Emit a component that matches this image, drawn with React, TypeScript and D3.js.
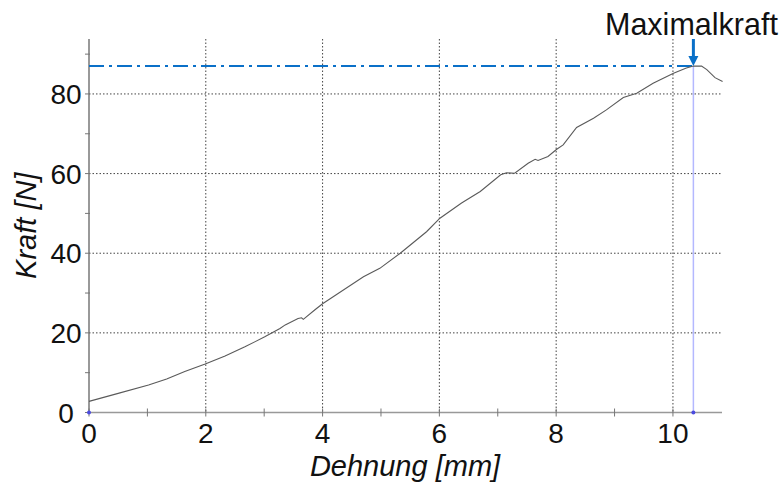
import { scaleLinear, line, max } from "d3"

const dehnung = [0, 0.5, 1.02, 1.33, 1.64, 1.99, 2.33, 2.67, 3.01, 3.27, 3.36, 3.58, 3.64, 3.67, 3.87, 4.0, 4.7, 4.98, 5.33, 5.78, 6.01, 6.38, 6.7, 7.05, 7.15, 7.29, 7.52, 7.64, 7.69, 7.86, 8.01, 8.12, 8.35, 8.64, 8.86, 9.15, 9.38, 9.66, 10.01, 10.23, 10.35, 10.49, 10.58, 10.72, 10.85]
const kraft = [2.8, 4.8, 6.9, 8.4, 10.3, 12.2, 14.2, 16.5, 19.0, 21.1, 22.0, 23.6, 23.8, 23.4, 25.8, 27.3, 34.1, 36.2, 40.0, 45.4, 48.8, 52.6, 55.5, 59.7, 60.2, 60.1, 62.6, 63.6, 63.3, 64.3, 66.1, 67.2, 71.6, 73.9, 76.0, 79.1, 80.2, 82.7, 85.2, 86.5, 87.0, 87.0, 86.1, 84.1, 83.1]

const xTicks = [0, 2, 4, 6, 8, 10]
const yTicks = [0, 20, 40, 60, 80]
const xMinor = [1, 3, 5, 7, 9]
const yMinor = [10, 30, 50, 70, 90]

const width = 781
const height = 482
const font = "Arial, 'Liberation Sans', sans-serif"

const App = () => {
  const x = scaleLinear().domain([0, 10.84]).range([89, 722])
  const y = scaleLinear().domain([0, 93.8]).range([412.5, 39])

  const pts = dehnung.map((d, i) => [d, kraft[i]] as [number, number])
  const path = line<[number, number]>().x(d => x(d[0])).y(d => y(d[1]))(pts)

  const fMax = max(kraft)
  const iMax = kraft.indexOf(fMax)
  const xMax = dehnung[iMax]

  return (
    <svg width={width} height={height} style={{ position: "absolute", left: 0, top: 0, background: "#fff" }} fontFamily={font}>
      {/* gitter */}
      {xTicks.slice(1).map(t => (
        <line key={"gx" + t} x1={x(t)} x2={x(t)} y1={y(93.8)} y2={y(0)} stroke="#444" strokeWidth={1} strokeDasharray="1.5 2" />
      ))}
      {yTicks.slice(1).map(t => (
        <line key={"gy" + t} x1={x(0)} x2={x(10.84)} y1={y(t)} y2={y(t)} stroke="#444" strokeWidth={1} strokeDasharray="1.5 2" />
      ))}

      {/* achsen */}
      <line x1={x(0)} x2={x(10.84)} y1={y(0)} y2={y(0)} stroke="#999" strokeWidth={1.5} />
      <line x1={x(0)} x2={x(0)} y1={y(93.8)} y2={y(0)} stroke="#777" strokeWidth={1.5} />
      {xTicks.concat(xMinor).map(t => (
        <line key={"tx" + t} x1={x(t)} x2={x(t)} y1={y(0) - 4} y2={y(0) + 4} stroke="#777" strokeWidth={1} />
      ))}
      {yTicks.concat(yMinor).map(t => (
        <line key={"ty" + t} x1={x(0) - 4} x2={x(0) + 1} y1={y(t)} y2={y(t)} stroke="#777" strokeWidth={1} />
      ))}

      {/* tick labels */}
      {xTicks.map(t => (
        <text key={"lx" + t} x={x(t)} y={443} textAnchor="middle" fontSize={28} fill="#111">{t}</text>
      ))}
      {yTicks.map(t => (
        <text key={"ly" + t} x={66} y={y(t) + 10} textAnchor="middle" fontSize={28} fill="#111">{t}</text>
      ))}

      {/* achsentitel */}
      <text x={405} y={476} textAnchor="middle" fontSize={29} fontStyle="italic" fill="#111">Dehnung [mm]</text>
      <text transform={`translate(36, ${(y(0) + y(93.8)) / 2}) rotate(-90)`} textAnchor="middle" fontSize={29} fontStyle="italic" fill="#111">Kraft [N]</text>

      {/* maximalkraft */}
      <line x1={x(0)} x2={x(xMax)} y1={y(fMax)} y2={y(fMax)} stroke="#0a70c8" strokeWidth={2} strokeDasharray="15 5 3 5" />
      <line x1={x(xMax)} x2={x(xMax)} y1={y(fMax)} y2={y(0)} stroke="#b4b8ff" strokeWidth={1.5} />

      {/* kurve */}
      <path d={path} fill="none" stroke="#5a5a5a" strokeWidth={1.1} />

      <circle cx={x(0)} cy={y(0)} r={2} fill="#4a4ae0" />
      <circle cx={x(xMax)} cy={y(0)} r={2} fill="#4a4ae0" />

      <line x1={x(xMax)} x2={x(xMax)} y1={39} y2={y(fMax) - 7} stroke="#0a70c8" strokeWidth={3} />
      <path d={`M${x(xMax) - 5},${y(fMax) - 10} L${x(xMax) + 5},${y(fMax) - 10} L${x(xMax)},${y(fMax)} Z`} fill="#0a70c8" />
      <text x={605} y={35} fontSize={30.5} fill="#111">Maximalkraft</text>
    </svg>
  )
}

export default App
